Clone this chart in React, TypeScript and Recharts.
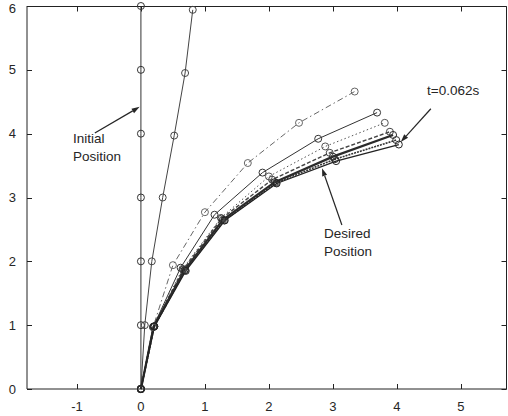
import React from "react";
import {
  ComposedChart,
  Line,
  XAxis,
  YAxis,
  ReferenceLine,
  ReferenceDot,
} from "recharts";

// axis setup
const xTicks = [-1, 0, 1, 2, 3, 4, 5];
const yTicks = [0, 1, 2, 3, 4, 5, 6];
const xDomain = [-1.78, 5.72];
const yDomain = [0, 6];

// chain joint positions (x values, y values)
const initialX = [0, 0, 0, 0, 0, 0, 0];
const initialY = [0, 1, 2, 3, 4, 5, 6];

const step1X = [0, 0.06, 0.17, 0.34, 0.52, 0.69, 0.81];
const step1Y = [0, 1, 2, 3, 3.97, 4.95, 5.94];

const chainAX = [0, 0.19, 0.5, 1.0, 1.67, 2.47, 3.34];
const chainAY = [0, 0.97, 1.94, 2.77, 3.54, 4.17, 4.66];

const chainBX = [0, 0.19, 0.62, 1.15, 1.9, 2.77, 3.69];
const chainBY = [0, 0.97, 1.9, 2.73, 3.39, 3.92, 4.33];

const chainCX = [0, 0.19, 0.65, 1.25, 2.0, 2.88, 3.81];
const chainCY = [0, 0.97, 1.88, 2.68, 3.33, 3.8, 4.17];

const chainDX = [0, 0.2, 0.66, 1.26, 2.05, 2.95, 3.89];
const chainDY = [0, 0.98, 1.87, 2.67, 3.28, 3.7, 4.03];

const desiredX = [0, 0.2, 0.68, 1.28, 2.09, 3.0, 3.94];
const desiredY = [0, 0.98, 1.86, 2.65, 3.24, 3.64, 3.98];

const chainEX = [0, 0.21, 0.69, 1.3, 2.11, 3.03, 3.99];
const chainEY = [0, 0.98, 1.86, 2.64, 3.23, 3.6, 3.9];

const finalX = [0, 0.21, 0.7, 1.31, 2.12, 3.05, 4.03];
const finalY = [0, 0.98, 1.85, 2.64, 3.22, 3.57, 3.83];

const toPoints = (xs: number[], ys: number[]) =>
  xs.map((x, i) => ({ x, y: ys[i] }));

const FONT = "'Liberation Sans', Arial, Helvetica, sans-serif";
const INK = "#262626";
const AXIS = "#222";

type SeriesStyle = {
  name: string;
  xs: number[];
  ys: number[];
  color: string;
  width: number;
  dash?: string;
};

const series: SeriesStyle[] = [
  { name: "initial", xs: initialX, ys: initialY, color: "#333", width: 1 },
  { name: "step1", xs: step1X, ys: step1Y, color: "#444", width: 1 },
  { name: "chainA", xs: chainAX, ys: chainAY, color: "#666", width: 1, dash: "6 3 1.5 3" },
  { name: "chainB", xs: chainBX, ys: chainBY, color: "#333", width: 1 },
  { name: "chainC", xs: chainCX, ys: chainCY, color: "#555", width: 1, dash: "1.5 2.5" },
  { name: "chainD", xs: chainDX, ys: chainDY, color: "#444", width: 1.4, dash: "4 2" },
  { name: "desired", xs: desiredX, ys: desiredY, color: "#2a2a2a", width: 2.2 },
  { name: "chainE", xs: chainEX, ys: chainEY, color: "#333", width: 1.6, dash: "2 1" },
  { name: "final", xs: finalX, ys: finalY, color: "#222", width: 1.3 },
];

// Box frame (top + right edges, inward ticks on all four sides).
// The reference segment runs from data (0,0) to (1,1); its pixel ends give the
// axis scales, so the frame follows the chart's own x/y scales.
function FrameShape(props: any) {
  const { x1, y1, x2, y2 } = props;
  const px = (v: number) => x1 + (x2 - x1) * v;
  const py = (v: number) => y1 + (y2 - y1) * v;
  const [xMin, xMax] = xDomain;
  const [yMin, yMax] = yDomain;
  const L = px(xMin);
  const R = px(xMax) - 0.5;
  const T = py(yMax) + 0.5;
  const B = py(yMin);
  const t = 5;
  let d = `M${L},${T}H${R}V${B}`;
  xTicks.forEach((v) => {
    const x = Math.round(px(v)) + 0.5;
    d += `M${x},${T}V${T + t}M${x},${B}V${B - t}`;
  });
  yTicks.forEach((v) => {
    const y = Math.round(py(v)) + 0.5;
    d += `M${R},${y}H${R - t}M${L},${y}H${L + t}`;
  });
  return <path d={d} fill="none" stroke={AXIS} strokeWidth={1} />;
}

function ArrowShape(props: any) {
  const { x1, y1, x2, y2 } = props;
  const ang = Math.atan2(y2 - y1, x2 - x1);
  const len = 8;
  const w = 2.6;
  const bx = x2 - len * Math.cos(ang);
  const by = y2 - len * Math.sin(ang);
  const pts = [
    `${x2},${y2}`,
    `${bx + w * Math.sin(ang)},${by - w * Math.cos(ang)}`,
    `${bx - w * Math.sin(ang)},${by + w * Math.cos(ang)}`,
  ].join(" ");
  return (
    <g>
      <line x1={x1} y1={y1} x2={bx} y2={by} stroke={INK} strokeWidth={1.2} />
      <polygon points={pts} fill={INK} />
    </g>
  );
}

function labelShape(lines: string[]) {
  return (props: any) => (
    <text x={props.cx} y={props.cy} fontSize={13.5} fill={INK} fontFamily={FONT}>
      {lines.map((t, i) => (
        <tspan key={i} x={props.cx} dy={i === 0 ? 0 : 18}>
          {t}
        </tspan>
      ))}
    </text>
  );
}

export default function App() {
  return (
    <div style={{ position: "absolute", left: 0, top: 0, background: "#fff" }}>
      <ComposedChart
        width={508}
        height={416}
        margin={{ top: 6, right: 1, bottom: 0, left: 0 }}
        style={{ fontFamily: FONT }}
      >
        <XAxis
          type="number"
          dataKey="x"
          domain={xDomain}
          ticks={xTicks}
          height={27}
          stroke={AXIS}
          tickLine={false}
          tickMargin={7}
          tick={{ fontSize: 13, fill: INK, fontFamily: FONT }}
        />
        <YAxis
          type="number"
          domain={yDomain}
          ticks={yTicks}
          width={27}
          stroke={AXIS}
          tickLine={false}
          tickMargin={5}
          tick={{ fontSize: 13, fill: INK, fontFamily: FONT }}
        />

        {series.map((s) => (
          <Line
            key={s.name}
            data={toPoints(s.xs, s.ys)}
            dataKey="y"
            type="linear"
            stroke={s.color}
            strokeWidth={s.width}
            strokeDasharray={s.dash}
            dot={{ r: 3.5, fill: "none", stroke: s.color, strokeWidth: 1, strokeDasharray: "" }}
            activeDot={false}
            isAnimationActive={false}
          />
        ))}

        <ReferenceLine
          segment={[{ x: 0, y: 0 }, { x: 1, y: 1 }]}
          shape={FrameShape}
        />

        <ReferenceLine
          segment={[{ x: -0.72, y: 4.01 }, { x: -0.02, y: 4.42 }]}
          shape={ArrowShape}
        />
        <ReferenceLine
          segment={[{ x: 4.53, y: 4.39 }, { x: 4.06, y: 3.87 }]}
          shape={ArrowShape}
        />
        <ReferenceLine
          segment={[{ x: 3.14, y: 2.57 }, { x: 2.83, y: 3.46 }]}
          shape={ArrowShape}
        />
        <ReferenceDot x={-1.06} y={3.86} r={0} shape={labelShape(["Initial", "Position"])} />
        <ReferenceDot x={4.47} y={4.61} r={0} shape={labelShape(["t=0.062s"])} />
        <ReferenceDot x={2.86} y={2.37} r={0} shape={labelShape(["Desired", "Position"])} />
      </ComposedChart>
    </div>
  );
}
